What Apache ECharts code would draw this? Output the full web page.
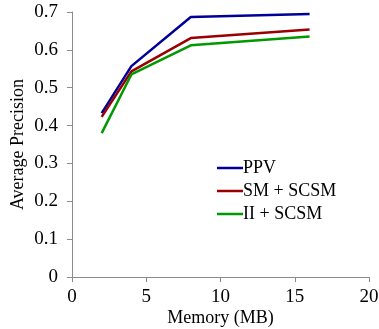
<!DOCTYPE html>
<html>
<head>
<meta charset="utf-8">
<script src="https://cdn.jsdelivr.net/npm/echarts@6/dist/echarts.min.js"></script>
<style>
  html, body { margin: 0; padding: 0; background: #fff; }
  #app { width: 379px; height: 329px; }
</style>
</head>
<body>
<div id="app"></div>
<script>
// memory sizes (MB)
const memory = [2, 4, 8, 16];
const ppv = [0.433, 0.557, 0.687, 0.695];
const smScsm = [0.423, 0.543, 0.631, 0.654];
const iiScsm = [0.38, 0.535, 0.612, 0.635];

const font = "Liberation Serif";
const axisGrey = "#8c8c8c";

const chart = echarts.init(document.getElementById("app"));

const mkSeries = (name, values, color) => ({
  name: name,
  type: "line",
  data: memory.map((m, i) => [m, values[i]]),
  showSymbol: false,
  lineStyle: { color: color, width: 2.5 },
  itemStyle: { color: color },
});

chart.setOption({
  animation: false,
  grid: {
    left: 72, right: 10, top: 12, bottom: 52,
    containLabel: false,
    outerBoundsMode: "none",
  },
  legend: {
    orient: "vertical",
    left: 217,
    top: 159,
    padding: 0,
    icon: "rect",
    itemWidth: 26,
    itemHeight: 2.5,
    itemGap: 5,
    textStyle: {
      fontFamily: font, fontSize: 18, color: "#000", lineHeight: 18,
      padding: [0, 0, 0, -5],
    },
    data: ["PPV", "SM + SCSM", "II + SCSM"],
  },
  xAxis: {
    type: "value",
    min: 0,
    max: 20,
    interval: 5,
    name: "Memory (MB)",
    nameLocation: "middle",
    nameGap: 32,
    nameMoveOverlap: false,
    nameTextStyle: { fontFamily: font, fontSize: 18, color: "#000" },
    axisLine: { lineStyle: { color: axisGrey } },
    axisTick: { show: true, length: 5, lineStyle: { color: axisGrey } },
    axisLabel: { fontFamily: font, fontSize: 19, color: "#000", margin: 11 },
    splitLine: { show: false },
  },
  yAxis: {
    type: "value",
    min: 0,
    max: 0.7,
    interval: 0.1,
    name: "Average Precision",
    nameLocation: "middle",
    nameGap: 45,
    nameMoveOverlap: false,
    nameTextStyle: { fontFamily: font, fontSize: 18, color: "#000" },
    axisLine: { show: true, lineStyle: { color: axisGrey } },
    axisTick: { show: true, length: 5, lineStyle: { color: axisGrey } },
    axisLabel: { fontFamily: font, fontSize: 19, color: "#000", margin: 14 },
    splitLine: { show: false },
  },
  series: [
    mkSeries("PPV", ppv, "#000099"),
    mkSeries("SM + SCSM", smScsm, "#990000"),
    mkSeries("II + SCSM", iiScsm, "#009900"),
  ],
});
</script>
</body>
</html>
